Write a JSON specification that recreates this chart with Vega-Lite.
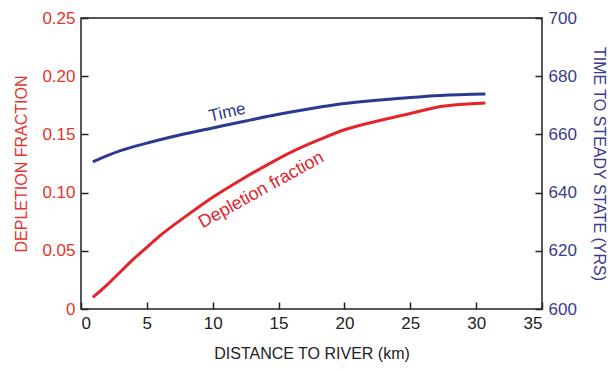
{
  "$schema": "https://vega.github.io/schema/vega-lite/v6.json",
  "width": 461,
  "height": 291,
  "autosize": {"type": "none"},
  "padding": {"left": 81, "top": 18, "right": 70, "bottom": 62},
  "background": "white",
  "config": {
    "font": "Liberation Sans",
    "view": {"stroke": "#222222", "strokeWidth": 1.5},
    "axis": {
      "grid": false,
      "domain": false,
      "ticks": true,
      "offset": -7,
      "tickSize": 7,
      "tickColor": "#222222",
      "tickWidth": 1.5,
      "labelFont": "Liberation Sans",
      "titleFont": "Liberation Sans",
      "labelFontSize": 17,
      "titleFontSize": 16,
      "titleFontWeight": "normal",
      "labelPadding": 6
    }
  },
  "datasets": {
    "dep": [
      {"distance": 0.9, "depletion": 0.010},
      {"distance": 2, "depletion": 0.021},
      {"distance": 3, "depletion": 0.032},
      {"distance": 4, "depletion": 0.043},
      {"distance": 5, "depletion": 0.053},
      {"distance": 6, "depletion": 0.063},
      {"distance": 8, "depletion": 0.080},
      {"distance": 10, "depletion": 0.096},
      {"distance": 12, "depletion": 0.110},
      {"distance": 14, "depletion": 0.123},
      {"distance": 16, "depletion": 0.135},
      {"distance": 18, "depletion": 0.145},
      {"distance": 20, "depletion": 0.154},
      {"distance": 22.7, "depletion": 0.162},
      {"distance": 25, "depletion": 0.168},
      {"distance": 27.3, "depletion": 0.174},
      {"distance": 30.7, "depletion": 0.177}
    ],
    "time": [
      {"distance": 0.9, "time": 650.6},
      {"distance": 3, "time": 654.4},
      {"distance": 5, "time": 657.0},
      {"distance": 7.5, "time": 659.8},
      {"distance": 10, "time": 662.2},
      {"distance": 12.5, "time": 664.6},
      {"distance": 15, "time": 666.9},
      {"distance": 17.5, "time": 668.9},
      {"distance": 20, "time": 670.6},
      {"distance": 22.7, "time": 671.8},
      {"distance": 25, "time": 672.7},
      {"distance": 27.3, "time": 673.4},
      {"distance": 30.7, "time": 673.9}
    ]
  },
  "layer": [
    {
      "layer": [
        {
          "data": {"name": "dep"},
          "mark": {"type": "line", "color": "#e3242b", "strokeWidth": 3, "interpolate": "monotone"},
          "encoding": {
            "x": {
              "field": "distance", "type": "quantitative",
              "scale": {"domain": [0, 35], "nice": false},
              "axis": {"values": [0, 5, 10, 15, 20, 25, 30, 35], "title": "DISTANCE TO RIVER (km)", "labelColor": "#222222", "titleColor": "#222222", "titlePadding": 14}
            },
            "y": {
              "field": "depletion", "type": "quantitative",
              "scale": {"domain": [0, 0.25], "nice": false, "zero": true},
              "axis": {"values": [0, 0.05, 0.1, 0.15, 0.2, 0.25], "title": "DEPLETION FRACTION", "labelColor": "#e8312a", "titleColor": "#e8312a", "labelExpr": "datum.value == 0 ? '0' : format(datum.value, '.2f')", "titlePadding": 12}
            }
          }
        },
        {
          "data": {"values": [{"distance": 13.7, "depletion": 0.102, "label": "Depletion fraction"}]},
          "mark": {"type": "text", "color": "#e3242b", "fontSize": 18, "angle": 331, "font": "Liberation Sans"},
          "encoding": {
            "x": {"field": "distance", "type": "quantitative"},
            "y": {"field": "depletion", "type": "quantitative"},
            "text": {"field": "label"}
          }
        }
      ]
    },
    {
      "layer": [
        {
          "data": {"name": "time"},
          "mark": {"type": "line", "color": "#2b3990", "strokeWidth": 3, "interpolate": "monotone"},
          "encoding": {
            "x": {"field": "distance", "type": "quantitative", "scale": {"domain": [0, 35], "nice": false}},
            "y": {
              "field": "time", "type": "quantitative",
              "scale": {"domain": [600, 700], "nice": false, "zero": false},
              "axis": {"orient": "right", "values": [600, 620, 640, 660, 680, 700], "title": "TIME TO STEADY STATE (YRS)", "labelColor": "#3a3a8c", "titleColor": "#3a3a8c", "titlePadding": 14}
            }
          }
        },
        {
          "data": {"values": [{"distance": 11.1, "time": 667.5, "label": "Time"}]},
          "mark": {"type": "text", "color": "#2b3990", "fontSize": 17, "angle": 347, "font": "Liberation Sans"},
          "encoding": {
            "x": {"field": "distance", "type": "quantitative"},
            "y": {"field": "time", "type": "quantitative"},
            "text": {"field": "label"}
          }
        }
      ]
    }
  ],
  "resolve": {"scale": {"y": "independent"}}
}
